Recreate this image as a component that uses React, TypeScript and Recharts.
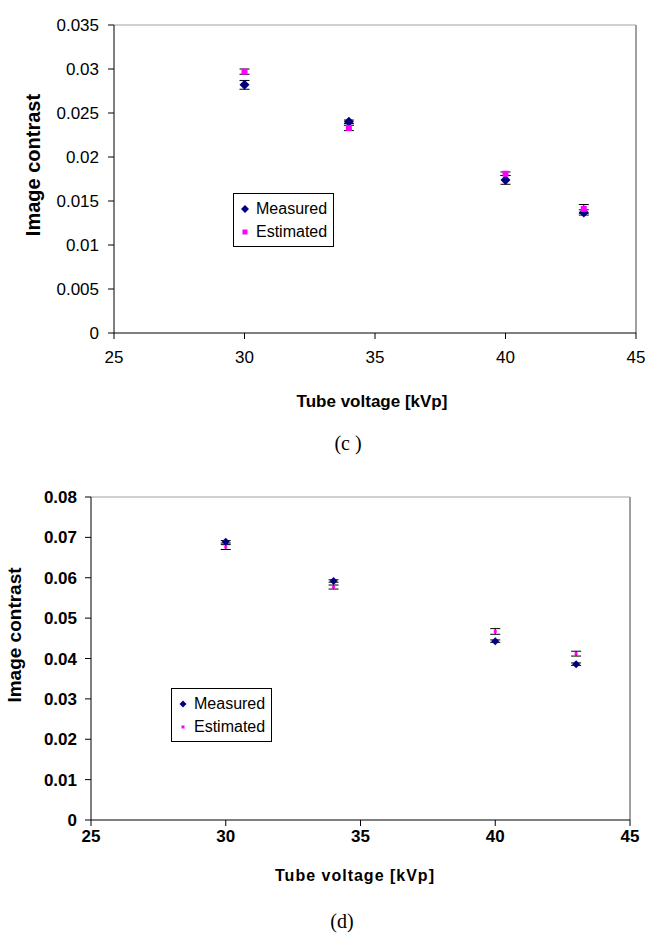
import React from 'react';
import { ScatterChart, Scatter, XAxis, YAxis, ErrorBar, Legend, ReferenceLine } from 'recharts';

// Tube voltage [kVp]
const kvp = [30, 34, 40, 43];

// Panel (c)
const cMeasured = [0.0282, 0.024, 0.0174, 0.0137];
const cMeasuredErr = [0.0005, 0.0002, 0.0005, 0.0003];
const cEstimated = [0.0297, 0.0233, 0.0181, 0.0141];
const cEstimatedErr = [0.0003, 0.0003, 0.0002, 0.0005];
const cYTicks = [0, 0.005, 0.01, 0.015, 0.02, 0.025, 0.03, 0.035];

// Panel (d)
const dMeasured = [0.0689, 0.0592, 0.0443, 0.0386];
const dMeasuredErr = [0.0003, 0.0003, 0.0003, 0.0003];
const dEstimated = [0.0676, 0.0577, 0.0467, 0.0412];
const dEstimatedErr = [0.0006, 0.0005, 0.0007, 0.0006];
const dYTicks = [0, 0.01, 0.02, 0.03, 0.04, 0.05, 0.06, 0.07, 0.08];

const xTicks = [25, 30, 35, 40, 45];
const seriesNames = ['Measured', 'Estimated'];

const NAVY = '#000080';
const MAGENTA = '#FF00FF';
const FONT = '"Liberation Sans", Arial, sans-serif';

const rows = (vals: number[], errs: number[]) =>
  kvp.map((x, i) => ({ x, y: vals[i], err: errs[i] }));

const diamond = (r: number) => (props: any) => {
  const { cx, cy } = props;
  if (cx == null || cy == null) return <g />;
  return (
    <polygon
      points={`${cx},${cy - r} ${cx + r},${cy} ${cx},${cy + r} ${cx - r},${cy}`}
      fill={NAVY}
    />
  );
};

const square = (s: number) => (props: any) => {
  const { cx, cy } = props;
  if (cx == null || cy == null) return <g />;
  return <rect x={cx - s / 2} y={cy - s / 2} width={s} height={s} fill={MAGENTA} />;
};

const fmt = (v: number) => String(+v.toFixed(3));

function LegendBox({ dSize, sSize }: { dSize: number; sSize: number }) {
  return (
    <div
      style={{
        border: '1px solid #000',
        width: 101,
        height: 54,
        boxSizing: 'border-box',
        background: '#fff',
        fontFamily: FONT,
        fontSize: 16,
        color: '#000',
        paddingTop: 3,
      }}
    >
      {seriesNames.map((n, i) => (
        <div key={n} style={{ display: 'flex', alignItems: 'center', height: 23 }}>
          <svg width={22} height={16} style={{ flex: 'none' }}>
            {i === 0 ? (
              <polygon
                points={`11,${8 - dSize} ${11 + dSize},8 11,${8 + dSize} ${11 - dSize},8`}
                fill={NAVY}
              />
            ) : (
              <rect x={11 - sSize / 2} y={8 - sSize / 2} width={sSize} height={sSize} fill={MAGENTA} />
            )}
          </svg>
          <span style={{ whiteSpace: 'nowrap' }}>{n}</span>
        </div>
      ))}
    </div>
  );
}

const abs = (style: React.CSSProperties): React.CSSProperties => ({ position: 'absolute', ...style });

export default function App() {
  return (
    <div style={abs({ left: 0, top: 0, width: 660, height: 935, background: '#fff', overflow: 'hidden' })}>
      {/* Panel (c) */}
      <div style={abs({ left: 0, top: 0, width: 660, height: 420 })}>
        <ScatterChart width={660} height={420} margin={{ top: 25, right: 24, bottom: 0, left: 0 }}>
          <XAxis
            type="number"
            dataKey="x"
            domain={[25, 45]}
            ticks={xTicks}
            allowDataOverflow
            height={87}
            stroke="#000"
            tickMargin={12}
            tick={{ fill: '#000', fontSize: 17, fontFamily: FONT }}
            tickLine={{ stroke: '#000' }}
          />
          <YAxis
            type="number"
            dataKey="y"
            domain={[0, 0.035]}
            ticks={cYTicks}
            width={114}
            stroke="#000"
            tickMargin={9}
            tickFormatter={fmt}
            tick={{ fill: '#000', fontSize: 17, fontFamily: FONT }}
            tickLine={{ stroke: '#000' }}
          />
          <ReferenceLine y={0.035} stroke="#a0a0a0" strokeWidth={1} />
          <ReferenceLine x={45} stroke="#a0a0a0" strokeWidth={2} />
          <Scatter name="Measured" data={rows(cMeasured, cMeasuredErr)} shape={diamond(5)} isAnimationActive={false}>
            <ErrorBar dataKey="err" direction="y" width={5} stroke="#000" strokeWidth={1} />
          </Scatter>
          <Scatter name="Estimated" data={rows(cEstimated, cEstimatedErr)} shape={square(6)} isAnimationActive={false}>
            <ErrorBar dataKey="err" direction="y" width={5} stroke="#000" strokeWidth={1} />
          </Scatter>
          <Legend
            layout="vertical"
            align="center"
            verticalAlign="middle"
            wrapperStyle={{ left: 233, top: 193, width: 101, height: 54 }}
            content={() => <LegendBox dSize={4} sSize={5} />}
          />
        </ScatterChart>
        <div
          style={abs({
            left: 33,
            top: 165,
            transform: 'translate(-50%, -50%) rotate(-90deg)',
            whiteSpace: 'nowrap',
            fontFamily: FONT,
            fontWeight: 'bold',
            fontSize: 20,
          })}
        >
          Image contrast
        </div>
        <div
          style={abs({
            left: 372,
            top: 402,
            transform: 'translate(-50%, -50%)',
            whiteSpace: 'nowrap',
            fontFamily: FONT,
            fontWeight: 'bold',
            fontSize: 17,
          })}
        >
          Tube voltage [kVp]
        </div>
      </div>
      <div
        style={abs({
          left: 348,
          top: 443,
          transform: 'translate(-50%, -50%)',
          whiteSpace: 'nowrap',
          fontFamily: '"Liberation Serif", "Times New Roman", serif',
          fontSize: 20,
        })}
      >
        (c )
      </div>

      {/* Panel (d) */}
      <div style={abs({ left: 0, top: 470, width: 660, height: 400 })}>
        <ScatterChart width={660} height={400} margin={{ top: 27, right: 30, bottom: 0, left: 0 }}>
          <XAxis
            type="number"
            dataKey="x"
            domain={[25, 45]}
            ticks={xTicks}
            allowDataOverflow
            height={50}
            stroke="#000"
            tickMargin={4}
            tick={{ fill: '#000', fontSize: 17, fontFamily: FONT, fontWeight: 'bold' }}
            tickLine={{ stroke: '#000' }}
          />
          <YAxis
            type="number"
            dataKey="y"
            domain={[0, 0.08]}
            ticks={dYTicks}
            width={91}
            stroke="#000"
            tickMargin={8}
            tickFormatter={fmt}
            tick={{ fill: '#000', fontSize: 17, fontFamily: FONT, fontWeight: 'bold' }}
            tickLine={{ stroke: '#000' }}
          />
          <ReferenceLine y={0.08} stroke="#a0a0a0" strokeWidth={1} />
          <ReferenceLine x={45} stroke="#a0a0a0" strokeWidth={2} />
          <Scatter name="Measured" data={rows(dMeasured, dMeasuredErr)} shape={diamond(4)} isAnimationActive={false}>
            <ErrorBar dataKey="err" direction="y" width={5} stroke="#000" strokeWidth={1} />
          </Scatter>
          <Scatter name="Estimated" data={rows(dEstimated, dEstimatedErr)} shape={square(3)} isAnimationActive={false}>
            <ErrorBar dataKey="err" direction="y" width={5} stroke="#000" strokeWidth={1} />
          </Scatter>
          <Legend
            layout="vertical"
            align="center"
            verticalAlign="middle"
            wrapperStyle={{ left: 171, top: 218, width: 101, height: 56 }}
            content={() => <LegendBox dSize={3.5} sSize={3} />}
          />
        </ScatterChart>
        <div
          style={abs({
            left: 15,
            top: 165,
            transform: 'translate(-50%, -50%) rotate(-90deg)',
            whiteSpace: 'nowrap',
            fontFamily: FONT,
            fontWeight: 'bold',
            fontSize: 19,
          })}
        >
          Image contrast
        </div>
        <div
          style={abs({
            left: 355,
            top: 406,
            transform: 'translate(-50%, -50%)',
            whiteSpace: 'nowrap',
            fontFamily: FONT,
            fontWeight: 'bold',
            fontSize: 16,
            letterSpacing: 1,
          })}
        >
          Tube voltage [kVp]
        </div>
      </div>
      <div
        style={abs({
          left: 342,
          top: 921,
          transform: 'translate(-50%, -50%)',
          whiteSpace: 'nowrap',
          fontFamily: '"Liberation Serif", "Times New Roman", serif',
          fontSize: 20,
        })}
      >
        (d)
      </div>
    </div>
  );
}
